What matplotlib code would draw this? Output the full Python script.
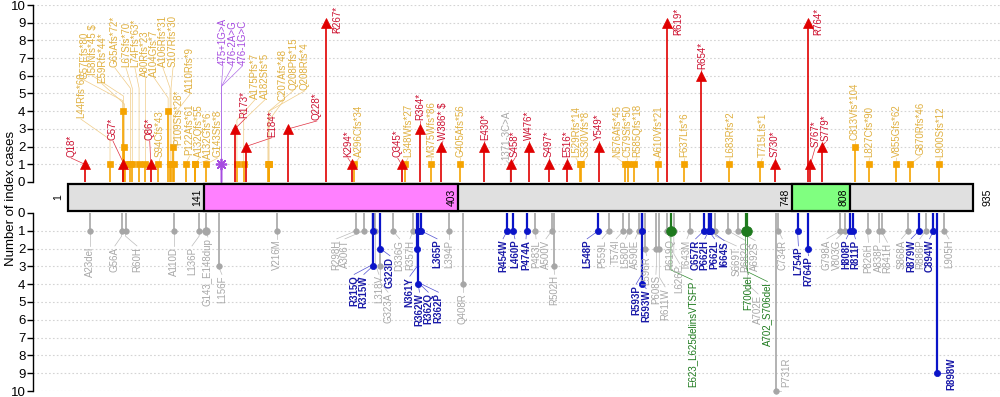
import matplotlib
matplotlib.use('Agg')
import matplotlib.pyplot as plt
from matplotlib.patches import Rectangle

plt.rcParams['font.family'] = ['Liberation Sans', 'DejaVu Sans']

# ---------------- data ----------------
protein_length = 935
domain_starts = [141, 748]
domain_ends = [403, 808]
domain_colors = ['#FF80FF', '#80FF80']

# top panel: truncating / splice variants
top_labels = ['Q18*', 'L44Rfs*60', 'G57*', 'G57Efs*80', 'I58Nfs*45 $', 'E59Rfs*44*',
              'G65Afs*72*', 'L67Sfs*70', 'L74Ffs*63*', 'A80Rfs*23', 'Q86*', 'S94Cfs*43',
              'A104Gfs*7', 'A106Rfs*31', 'S107Rfs*30', 'P109Sfs*28*', 'A110Rfs*9',
              'P122Afs*61', 'A132Qfs*55', 'A132Gfs*6', 'G143Sfs*8',
              '475+1G>A', '476-2A>G', '476-1G>C', 'R173*', 'A175Pfs*7', 'A182Sfs*5',
              'E184*', 'C207Afs*48', 'Q208Pfs*15', 'Q208Rfs*4', 'Q228*', 'R267*',
              'K294*', 'A296Cfs*34', 'Q345*', 'L348Wfs*27', 'R364*', 'M375Wfs*86',
              'W386* $', 'G405Afs*56', 'E430*', '1371-3C>A', 'S458*', 'W476*', 'S497*',
              'E516*', 'L529Rfs*14', 'S530Vfs*8', 'Y549*', 'N576Afs*45', 'C579Sfs*50',
              'R585Qfs*18', 'A610Vfs*21', 'R619*', 'F637Lfs*6', 'R654*', 'L683Rfs*2',
              'T715Lfs*1', 'S730*', 'R764*', 'S767*', 'S779*', 'C813Vfs*104',
              'L827Cfs*90', 'V855Gfs*62', 'G870Rfs*46', 'L900Sfs*12']
top_positions = [18, 44, 57, 57, 58, 59, 65, 67, 74, 80, 86, 94, 104, 106, 107, 109, 110,
                 122, 132, 132, 143, 159, 159, 159, 173, 175, 182, 184, 207, 208, 208,
                 228, 267, 294, 296, 345, 348, 364, 375, 386, 405, 430, 457, 458, 476,
                 497, 516, 529, 530, 549, 576, 579, 585, 610, 619, 637, 654, 683, 715,
                 730, 764, 767, 779, 813, 827, 855, 870, 900]
top_counts = [1, 1, 1, 4, 2, 1, 1, 1, 1, 1, 1, 1, 4, 1, 1, 2, 1,
              1, 1, 1, 1, 1, 1, 1, 3, 1, 1, 2, 1, 1, 1,
              3, 9, 1, 1, 1, 1, 3, 1, 2, 1, 2, 1, 1, 2,
              1, 1, 1, 1, 2, 1, 1, 1, 1, 9, 1, 6, 1, 1,
              1, 9, 1, 2, 2, 1, 1, 1, 1]
N, F, S, O = 'nonsense', 'frameshift', 'splice', 'other'
top_kinds = [N, F, N, F, F, F, F, F, F, F, N, F, F, F, F, F, F,
             F, F, F, F, S, S, S, N, F, F, N, F, F, F,
             N, N, N, F, N, F, N, F, N, F, N, O, N, N,
             N, N, F, F, N, F, F, F, F, N, F, N, F, F,
             N, N, N, N, F, F, F, F, F]

# bottom panel: missense / in-frame variants
bot_labels = ['A23del', 'G56A', 'R60H', 'A110D', 'L136P', 'G143_E148dup', 'L156F', 'V216M',
              'R298H', 'A306T', 'R315Q', 'R315W', 'L318V', 'G323A', 'G323D', 'D336G',
              'R357H', 'N361Y', 'R362W', 'R362Q', 'R362P', 'L365P', 'L394P', 'Q408R',
              'R454W', 'L460P', 'P474A', 'P483L', 'A500V', 'R502H', 'L548P', 'P559L',
              'T574I', 'L580P', 'A590E', 'R593P', 'R593W', 'L596R', 'P608S', 'R611W',
              'R619Q', 'E623_L625delinsVTSFP', 'L626P', 'T643M', 'C657R', 'P662H',
              'P662L', 'I664S', 'S669T', 'R682Q', 'A692S', 'F700del', 'A702E',
              'A702_S706del', 'P731R', 'C734R', 'L754P', 'R764P', 'G798A', 'V803G',
              'H808P', 'R811P', 'P826H', 'A838P', 'R841H', 'S868A', 'R879W', 'R886P',
              'C894W', 'R898W', 'L905H']
bot_positions = [23, 56, 60, 110, 136, 143, 156, 216, 298, 306, 315, 315, 318, 323, 323, 336,
                 357, 361, 362, 362, 362, 365, 394, 408, 454, 460, 474, 483, 500, 502, 548,
                 559, 574, 580, 590, 593, 593, 596, 608, 611, 619, 623, 626, 643, 657, 662,
                 662, 664, 669, 682, 692, 700, 702, 702, 731, 734, 754, 764, 798, 803, 808,
                 811, 826, 838, 841, 868, 879, 886, 894, 898, 905]
bot_counts = [1, 1, 1, 1, 1, 1, 3, 1, 1, 1, 1, 3, 1, 3, 2, 1,
              1, 2, 4, 1, 1, 1, 1, 4, 1, 1, 1, 1, 1, 3, 1,
              1, 1, 1, 1, 1, 4, 2, 2, 2, 1, 1, 1, 1, 1, 1,
              1, 1, 1, 1, 1, 1, 1, 1, 10, 1, 1, 2, 1, 1, 1,
              1, 1, 1, 1, 1, 1, 1, 1, 9, 1]
V, P, I, D = 'vus', 'pathogenic', 'inframe', 'dup_vus'
bot_kinds = [V, V, V, V, V, D, V, V, V, V, P, P, V, V, P, V,
             V, P, P, P, P, P, V, V, P, P, P, V, V, V, P,
             V, V, V, V, P, P, V, V, V, V, I, V, V, P, P,
             P, P, V, V, V, I, V, I, V, V, P, P, V, V, P,
             P, V, V, V, V, P, V, P, P, V]

# ---------------- label layout (residue x, count y of label end) ----------------
top_label_x = [4, 14, 47, 17.5, 26, 35.7, 49, 60.5, 69.7, 80, 85, 95.6, 89.3, 98.6, 109, 114, 126.5,
               126, 136, 145.5, 155, 160.6, 170.6, 180.6, 183, 193.6, 204, 211, 222.5, 233, 245,
               257.6, 279, 289.6, 301, 341, 351.6, 364, 376, 387.7, 406, 431, 453, 462, 476,
               497, 516, 525, 535.4, 549, 567.5, 578, 588, 611, 631, 637, 655, 684, 717.4,
               730, 775, 772, 782.5, 813, 828, 856, 880.7, 901]
top_label_y = [1.4, 3.6, 2.37, 5.8, 6.05, 5.6, 6.5, 6.5, 6.5, 5.95, 2.37, 1.4, 5.95, 6.5, 6.5, 2.1, 5.0,
               1.5, 1.4, 1.3, 1.4, 6.6, 6.6, 6.6, 3.6, 4.7, 4.7, 2.55, 4.6, 5.2, 5.2,
               3.5, 8.4, 1.4, 1.4, 1.4, 1.4, 3.5, 1.4, 2.37, 1.4, 2.37, 1.25, 1.4, 2.37,
               1.4, 1.4, 1.4, 1.4, 2.37, 1.4, 1.4, 1.4, 1.4, 8.3, 1.4, 6.4, 1.4, 1.4,
               1.4, 8.3, 2.0, 2.3, 2.37, 1.4, 1.4, 1.5, 1.4]
bot_label_x = [23, 49, 71.8, 110, 128.6, 145, 159.5, 216, 278, 286.5, 296, 306, 321.6, 331, 333, 343,
               353.6, 353.5, 363.5, 372.5, 383, 381.6, 394, 408, 449.7, 462, 473.4, 483.8, 494, 503, 536.5,
               552, 566.5, 576, 586, 587, 597.5, 598, 607.5, 617, 622, 645, 632, 639.5, 648.5, 658,
               668, 678, 690.5, 700, 710, 703, 713, 722.6, 742, 738, 754.6, 765, 784, 794, 804,
               813.5, 827, 838, 846.5, 861, 871, 880, 890, 912.7, 910]
bot_label_y = [1.9, 1.9, 1.9, 1.9, 1.9, 1.4, 3.5, 1.5, 1.5, 1.5, 3.5, 3.5, 3.5, 4.5, 2.45, 1.5,
               1.5, 3.6, 4.5, 4.5, 4.5, 1.5, 1.5, 4.5, 1.5, 1.5, 1.5, 1.5, 1.5, 3.5, 1.5,
               1.5, 1.5, 1.5, 1.5, 4.05, 4.3, 2.45, 3.5, 4.2, 1.45, 3.8, 2.9, 1.5, 1.5, 1.5,
               1.5, 1.6, 1.9, 1.6, 1.6, 3.5, 4.6, 3.9, 8.1, 1.5, 1.9, 2.45, 1.5, 1.5, 1.5,
               1.5, 1.7, 1.7, 1.7, 1.5, 1.5, 1.5, 1.5, 8.1, 1.5]

# ---------------- styles ----------------
STY = {
    'nonsense':   dict(c='#E00000', tc='#CC1030', lc='#E03040', m='^', ms=6.5, lw=1.2, z=4, bold=False),
    'frameshift': dict(c='#F5A300', tc='#E0B040', lc='#F0CC88', m='s', ms=5.0, lw=1.2, z=3, bold=False),
    'splice':     dict(c='#A64BE0', tc='#A64BE0', lc='#B070E8', m=(8, 2, 0), ms=8, lw=1.0, z=5, bold=False),
    'other':      dict(c='#A6A6A6', tc='#A8A8A8', lc='#BBBBBB', m='o', ms=3.0, lw=1.0, z=2, bold=False),
    'vus':        dict(c='#A6A6A6', tc='#A8A8A8', lc='#BBBBBB', m='o', ms=4.0, lw=1.2, z=2, bold=False),
    'dup_vus':    dict(c='#A6A6A6', tc='#A8A8A8', lc='#BBBBBB', m='o', ms=5.5, lw=1.2, z=2, bold=False),
    'pathogenic': dict(c='#0A14C8', tc='#1A1AA8', lc='#5050D0', m='o', ms=4.5, lw=1.6, z=4, bold=True),
    'inframe':    dict(c='#1E7A1E', tc='#1E7A1E', lc='#2E8A2E', m='o', ms=7.0, lw=1.6, z=5, bold=False),
}

fig = plt.figure(figsize=(10, 3.97), dpi=100)
ax_top = fig.add_axes([0.033, 0.5416, 0.967, 0.4458])
ax_bot = fig.add_axes([0.033, 0.0151, 0.967, 0.4484])

xlim = (-35.5, 962.7)
for ax in (ax_top, ax_bot):
    ax.set_xlim(*xlim)
    ax.set_yticks(range(0, 11))
    ax.tick_params(axis='y', direction='out', length=4, width=1, labelsize=9.5, pad=1.5)
    ax.set_xticks([])
    for sp in ('top', 'right', 'bottom'):
        ax.spines[sp].set_visible(False)
    ax.spines['left'].set_linewidth(1.0)
    ax.patch.set_alpha(0)
    for yv in range(1, 11):
        ax.axhline(yv, color='#D4D4D4', lw=0.8, ls=(0, (1.5, 2)), zorder=0)
ax_top.set_ylim(0, 10)
ax_bot.set_ylim(10, 0)


def draw_panel(ax, labels, positions, counts, kinds, lxs, lys, top, order):
    idx_sorted = sorted(range(len(labels)), key=lambda i: order.index(kinds[i]))
    for i in idx_sorted:
        st = STY[kinds[i]]
        pos, cnt = positions[i], counts[i]
        lx, ly = lxs[i], lys[i]
        # stem
        ax.plot([pos, pos], [0, cnt], color=st['c'], lw=st['lw'], zorder=st['z'],
                solid_capstyle='butt', clip_on=False)
        # leader line
        if ly < cnt:
            if top:
                xs, ys = [pos, lx], [cnt, ly]
            else:
                xs, ys = [pos, lx - 5], [cnt, cnt]
        else:
            d = 1.2 if top else 0.6
            ye = max(cnt, ly - d)
            xs, ys = [pos, pos, lx], [cnt, ye, ly - 0.05]
        ax.plot(xs, ys, color=st['lc'], lw=0.5, zorder=1, clip_on=False)
        # marker
        ax.plot([pos], [cnt], marker=st['m'], ms=st['ms'], color=st['c'],
                mec=st['c'], mew=1.0 if kinds[i] == 'splice' else 0.5,
                zorder=st['z'] + 0.5, clip_on=False, linestyle='none')
        # label
        ax.text(lx, ly, labels[i], rotation=90, ha='center',
                va='bottom' if top else 'top', fontsize=7, color=st['tc'],
                fontweight='bold' if st['bold'] else 'normal', clip_on=False, zorder=6)


draw_panel(ax_top, top_labels, top_positions, top_counts, top_kinds,
           top_label_x, top_label_y, True, ['other', 'frameshift', 'nonsense', 'splice'])
draw_panel(ax_bot, bot_labels, bot_positions, bot_counts, bot_kinds,
           bot_label_x, bot_label_y, False, ['vus', 'dup_vus', 'pathogenic', 'inframe'])

# protein backbone and domains (drawn in top-axes data units below 0)
box_y0, box_h = -1.64, 1.527
ax_top.add_patch(Rectangle((1, box_y0), protein_length - 1, box_h, facecolor='#E0E0E0',
                           edgecolor='black', lw=1.6, zorder=7, clip_on=False))
for s, e, col in zip(domain_starts, domain_ends, domain_colors):
    ax_top.add_patch(Rectangle((s, box_y0), e - s, box_h, facecolor=col,
                               edgecolor='black', lw=1.6, zorder=8, clip_on=False))
ymid = box_y0 + box_h / 2
for v in domain_starts + domain_ends:
    ax_top.text(v - 1.5, ymid, str(v), rotation=90, ha='right', va='center',
                fontsize=7.5, color='black', zorder=9, clip_on=False)
ax_top.text(1 - 5, ymid, '1', rotation=90, ha='right', va='center', fontsize=7.5,
            color='black', clip_on=False)
ax_top.text(protein_length + 10, ymid, str(protein_length), rotation=90, ha='left',
            va='center', fontsize=7.5, color='black', clip_on=False)

fig.text(0.011, 0.5, 'Number of index cases', rotation=90, ha='center', va='center',
         fontsize=9.5)

fig.savefig('out.png', dpi=100)
